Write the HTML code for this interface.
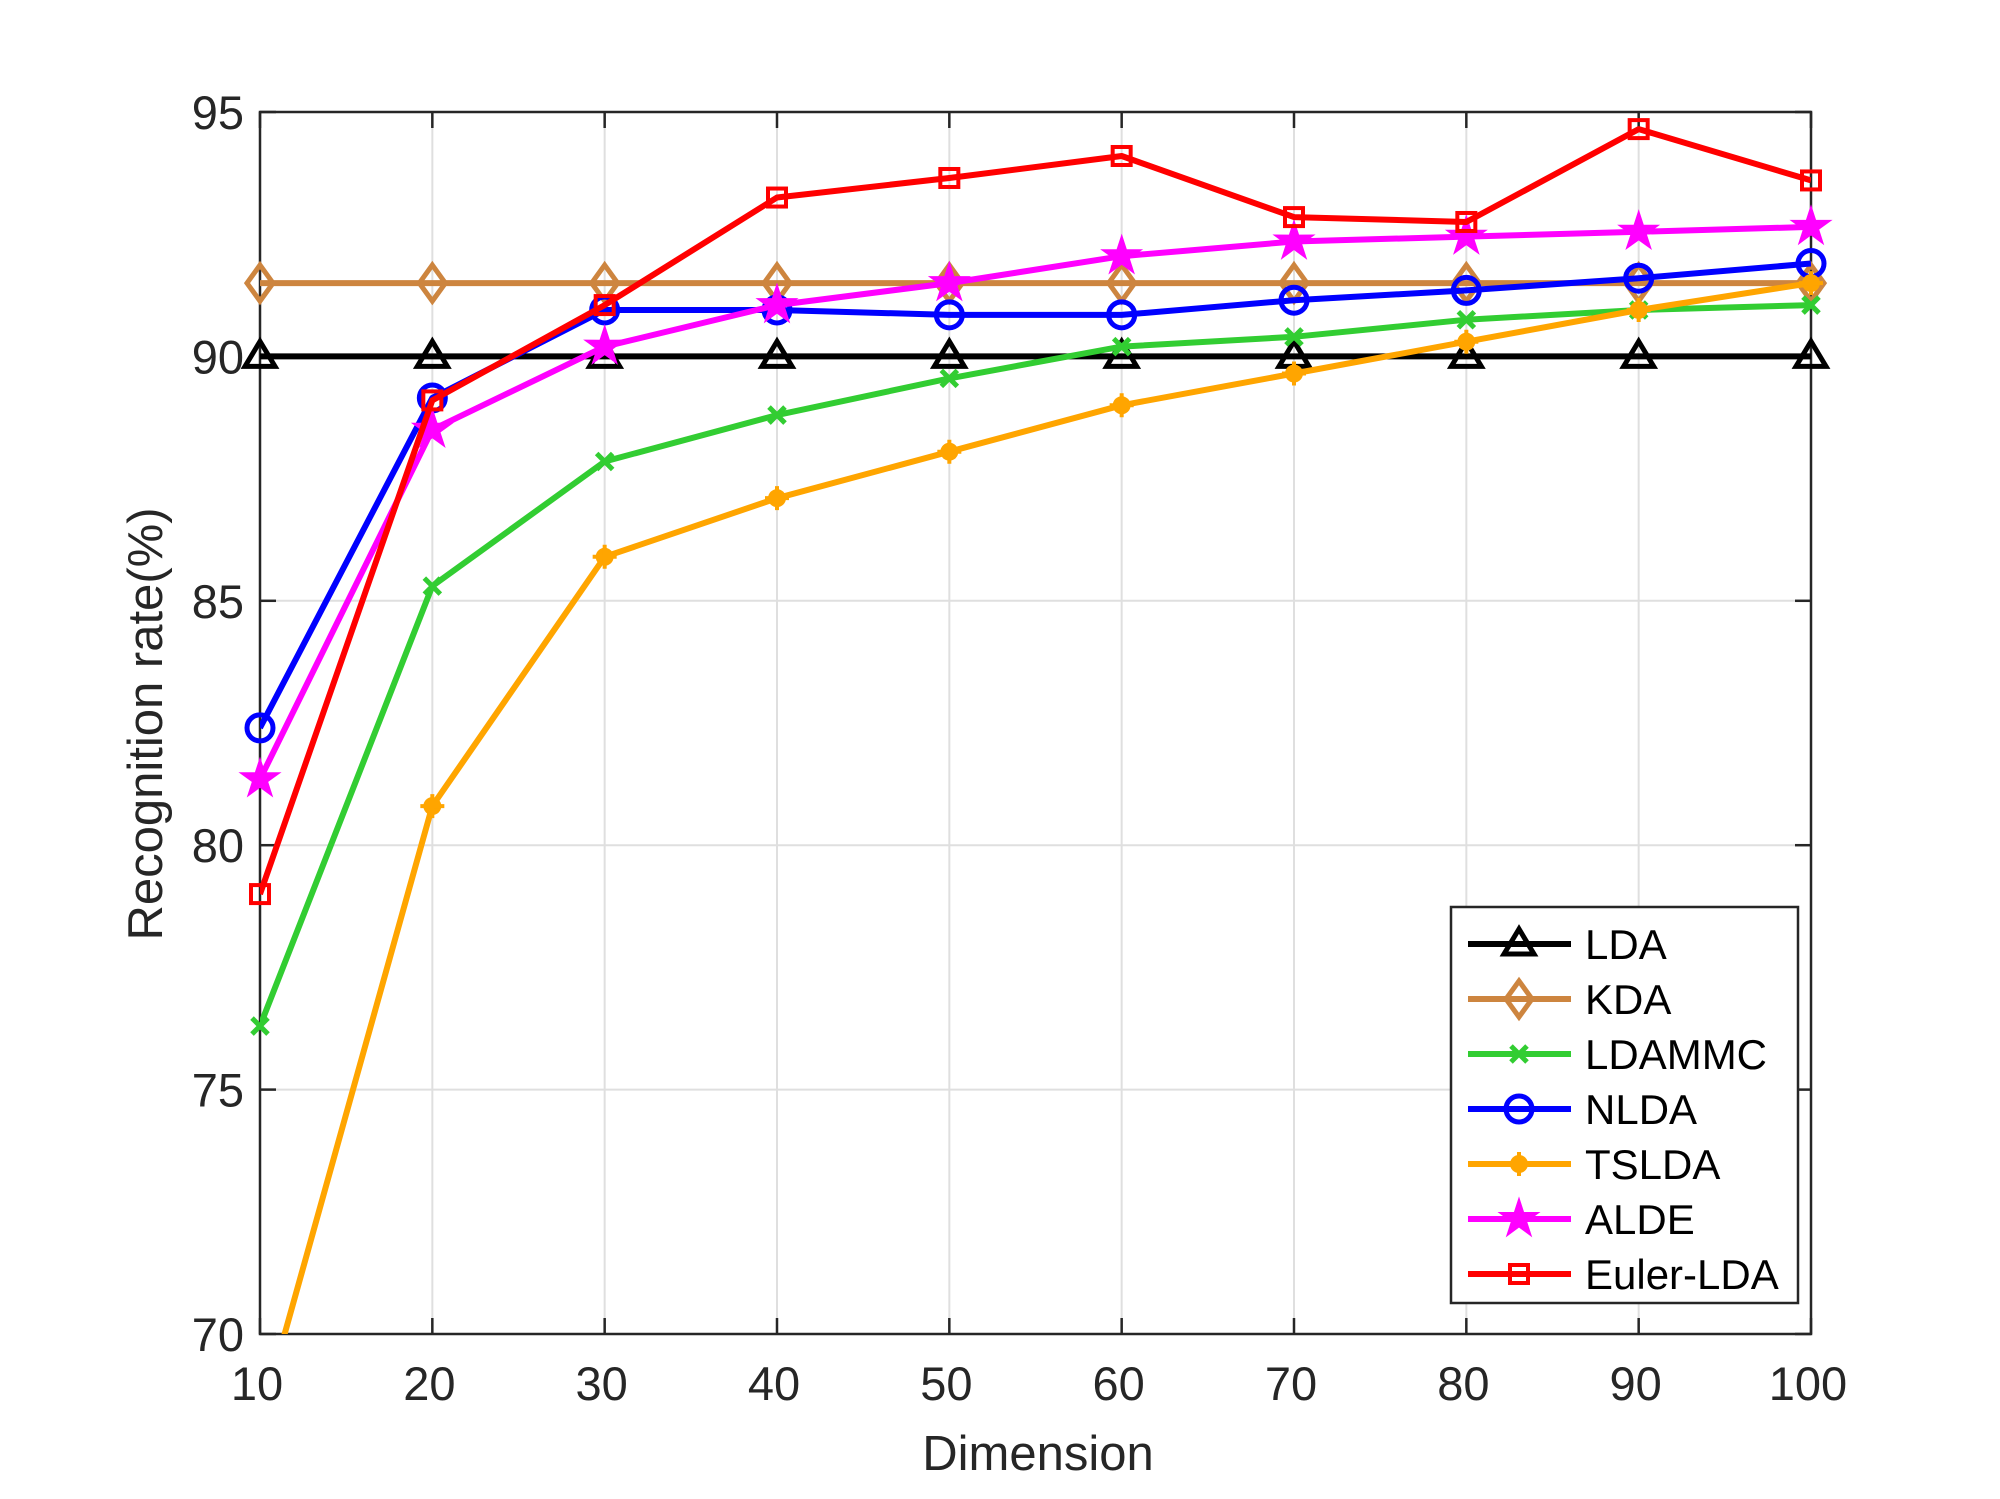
<!DOCTYPE html>
<html><head><meta charset="utf-8"><style>
html,body{margin:0;padding:0;background:#fff}
svg{display:block;font-family:"Liberation Sans",Arial,sans-serif}
</style></head><body>
<svg id="chart" width="2000" height="1499" viewBox="0 0 2000 1499" xmlns="http://www.w3.org/2000/svg"></svg>
<script>
const dims = [10,20,30,40,50,60,70,80,90,100];
const xTicks = [10,20,30,40,50,60,70,80,90,100];
const yTicks = [70,75,80,85,90,95];
const seriesNames = ["LDA","KDA","LDAMMC","NLDA","TSLDA","ALDE","Euler-LDA"];
const ldaValues = [90,90,90,90,90,90,90,90,90,90];
const kdaValues = [91.5,91.5,91.5,91.5,91.5,91.5,91.5,91.5,91.5,91.5];
const ldammcValues = [76.3,85.3,87.85,88.8,89.55,90.2,90.4,90.75,90.95,91.05];
const nldaValues = [82.4,89.15,90.95,90.95,90.85,90.85,91.15,91.35,91.6,91.9];
const tsldaValues = [68.2,80.8,85.9,87.1,88.05,89.0,89.65,90.3,90.95,91.5];
const aldeValues = [81.35,88.5,90.2,91.05,91.5,92.05,92.35,92.45,92.55,92.65];
const eulerValues = [79.0,89.1,91.05,93.25,93.65,94.1,92.85,92.75,94.65,93.6];

const X0=260,X1=1811,Y0=1334,Y1=112;
const xs=v=>X0+(v-10)/90*(X1-X0);
const ys=v=>Y0-(v-70)/25*(Y0-Y1);
const svg=document.getElementById('chart');
const NS='http://www.w3.org/2000/svg';
function mk(tag,attrs,parent){const e=document.createElementNS(NS,tag);for(const k in attrs)e.setAttribute(k,attrs[k]);(parent||svg).appendChild(e);return e;}

const defs=mk('defs',{});
const cp=mk('clipPath',{id:'plotclip'},defs);
mk('rect',{x:X0,y:Y1,width:X1-X0,height:Y0-Y1},cp);

const grid=mk('g',{});


xTicks.forEach(t=>{mk('line',{x1:xs(t),x2:xs(t),y1:Y1,y2:Y0,stroke:'#dfdfdf','stroke-width':2},grid);});
yTicks.forEach(t=>{mk('line',{x1:X0,x2:X1,y1:ys(t),y2:ys(t),stroke:'#dfdfdf','stroke-width':2},grid);});

const ax=mk('g',{});


mk('rect',{x:X0,y:Y1,width:X1-X0,height:Y0-Y1,fill:'none',stroke:'#262626','stroke-width':2.5},ax);
xTicks.forEach(t=>{
  mk('line',{x1:xs(t),x2:xs(t),y1:Y0,y2:Y0-16,stroke:'#262626','stroke-width':2.5},ax);
  mk('line',{x1:xs(t),x2:xs(t),y1:Y1,y2:Y1+16,stroke:'#262626','stroke-width':2.5},ax);
  const tx=mk('text',{x:xs(t)-3,y:Y0+66,'text-anchor':'middle','font-size':47,fill:'#262626'},ax);
  tx.textContent=t;
  
  
});
yTicks.forEach(t=>{
  mk('line',{x1:X0,x2:X0+16,y1:ys(t),y2:ys(t),stroke:'#262626','stroke-width':2.5},ax);
  mk('line',{x1:X1,x2:X1-16,y1:ys(t),y2:ys(t),stroke:'#262626','stroke-width':2.5},ax);
  const tx=mk('text',{x:X0-16,y:ys(t)+17,'text-anchor':'end','font-size':47,fill:'#262626'},ax);
  tx.textContent=t;
  
  
});
const xl=mk('text',{x:1038,y:1470,'text-anchor':'middle','font-size':49,fill:'#262626'});
xl.textContent='Dimension';


const yl=mk('text',{x:0,y:0,'text-anchor':'middle','font-size':49,fill:'#262626',transform:'translate(162,724) rotate(-90)'});
yl.textContent='Recognition rate(%)';



function marker(type,cx,cy,color,parent){
  if(type==='tri') return mk('polygon',{points:`${cx},${cy-15} ${cx-15},${cy+10} ${cx+15},${cy+10}`,fill:'none',stroke:color,'stroke-width':5},parent);
  if(type==='dia') return mk('polygon',{points:`${cx},${cy-18} ${cx+13},${cy} ${cx},${cy+18} ${cx-13},${cy}`,fill:'none',stroke:color,'stroke-width':5},parent);
  if(type==='x'){const g=mk('g',{},parent);mk('path',{d:`M${cx-8},${cy-8}L${cx+8},${cy+8}M${cx-8},${cy+8}L${cx+8},${cy-8}`,stroke:color,'stroke-width':5},g);return g;}
  if(type==='circ') return mk('circle',{cx,cy,r:13,fill:'none',stroke:color,'stroke-width':5},parent);
  if(type==='dot'){const g=mk('g',{},parent);mk('circle',{cx,cy,r:9,fill:color},g);mk('path',{d:`M${cx-12},${cy}L${cx+12},${cy}M${cx},${cy-12}L${cx},${cy+12}`,stroke:color,'stroke-width':4},g);return g;}
  if(type==='star'){let p=[];for(let i=0;i<10;i++){const r=i%2?8:21;const a=-Math.PI/2+i*Math.PI/5;p.push((cx+r*Math.cos(a)).toFixed(1)+','+(cy+r*Math.sin(a)).toFixed(1));}return mk('polygon',{points:p.join(' '),fill:color,stroke:color,'stroke-width':1},parent);}
  if(type==='sq') return mk('rect',{x:cx-9,y:cy-9,width:18,height:18,fill:'none',stroke:color,'stroke-width':4},parent);
}

const seriesData=[ldaValues,kdaValues,ldammcValues,nldaValues,tsldaValues,aldeValues,eulerValues];
const colors=['#000000','#cd853f','#32cd32','#0000ff','#ffa500','#ff00ff','#ff0000'];
const markers=['tri','dia','x','circ','dot','star','sq'];
const keys=['lda','kda','ldammc','nlda','tslda','alde','euler-lda'];

seriesData.forEach((vals,si)=>{
  const g=mk('g',{});
  
  
  const pts=vals.map((v,i)=>xs(dims[i]).toFixed(1)+','+ys(v).toFixed(1)).join(' ');
  mk('polyline',{points:pts,fill:'none',stroke:colors[si],'stroke-width':6,'stroke-linejoin':'round','clip-path':'url(#plotclip)'},g);
  vals.forEach((v,i)=>{
    if(v<70) return;
    const m=marker(markers[si],xs(dims[i]),ys(v),colors[si],g);
    
    
  });
});

const lg=mk('g',{});


mk('rect',{x:1451,y:907,width:347,height:396,fill:'#fff',stroke:'#262626','stroke-width':2.5},lg);
seriesNames.forEach((n,i)=>{
  const y=944+i*55;
  const e=mk('g',{},lg);
  
  
  mk('line',{x1:1468,x2:1571,y1:y,y2:y,stroke:colors[i],'stroke-width':6},e);
  marker(markers[i],1519,y,colors[i],e);
  const t=mk('text',{x:1585,y:y+15,'font-size':42,fill:'#000'},e);
  t.textContent=n;
});
</script>
</body></html>
